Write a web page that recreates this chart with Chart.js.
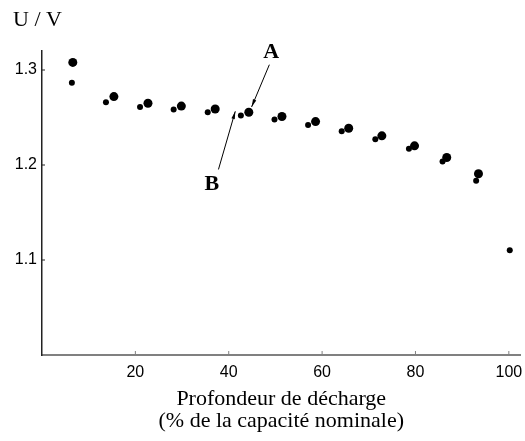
<!DOCTYPE html>
<html>
<head>
<meta charset="utf-8">
<script src="https://cdn.jsdelivr.net/npm/chart.js@4"></script>
<style>
  html, body { margin: 0; padding: 0; background: #fff; }
  #wrap { width: 525px; height: 441px; }
</style>
</head>
<body>
<div id="wrap"><canvas id="decharge"></canvas></div>
<script>
// Données
const grosX = [6.6, 15.4, 22.7, 29.85, 37.1, 44.3, 51.4, 58.6, 65.7, 72.8, 79.8, 86.7, 93.5];
const grosY = [1.308, 1.272, 1.265, 1.262, 1.259, 1.2555, 1.251, 1.2457, 1.2387, 1.2307, 1.2202, 1.2079, 1.1908];
const petitsX = [6.4, 13.7, 21.0, 28.2, 35.5, 42.6, 49.8, 57.0, 64.2, 71.4, 78.6, 85.8, 93.0, 100.2];
const petitsY = [1.2867, 1.266, 1.2611, 1.2583, 1.2555, 1.252, 1.2478, 1.2422, 1.2355, 1.2271, 1.217, 1.2037, 1.1834, 1.1102];
const xTicks = [20, 40, 60, 80, 100];
const yTicks = [1.1, 1.2, 1.3];

// Flèches A et B (en unités des axes)
const labelA = { text: 'A', x: 49.1, y: 1.319, dx: 48.7, dy: 1.3056, fx: 44.9, fy: 1.2611 };
const labelB = { text: 'B', x: 36.4, y: 1.1795, dx: 37.8, dy: 1.1953, fx: 41.4, fy: 1.2565 };

const toPoints = (xs, ys) => xs.map((x, i) => ({ x: x, y: ys[i] }));

const xAxisColor = '#808080';
const yAxisColor = '#222';

// ticks vers l'intérieur + annotations
const extras = {
  id: 'extras',
  afterDraw(chart) {
    const ctx = chart.ctx;
    const xs = chart.scales.x;
    const ys = chart.scales.y;
    const area = chart.chartArea;
    ctx.save();
    ctx.lineWidth = 1;
    ctx.strokeStyle = xAxisColor;
    xTicks.forEach((v) => {
      const px = xs.getPixelForValue(v);
      ctx.beginPath();
      ctx.moveTo(px, area.bottom);
      ctx.lineTo(px, area.bottom - 4);
      ctx.stroke();
    });
    ctx.strokeStyle = yAxisColor;
    yTicks.forEach((v) => {
      const py = ys.getPixelForValue(v);
      ctx.beginPath();
      ctx.moveTo(area.left, py);
      ctx.lineTo(area.left + 3, py);
      ctx.stroke();
    });

    [labelA, labelB].forEach((a) => {
      const x0 = xs.getPixelForValue(a.dx), y0 = ys.getPixelForValue(a.dy);
      const x1 = xs.getPixelForValue(a.fx), y1 = ys.getPixelForValue(a.fy);
      ctx.strokeStyle = '#000';
      ctx.fillStyle = '#000';
      ctx.lineWidth = 1;
      ctx.beginPath();
      ctx.moveTo(x0, y0);
      ctx.lineTo(x1, y1);
      ctx.stroke();
      const ang = Math.atan2(y1 - y0, x1 - x0);
      ctx.beginPath();
      ctx.moveTo(x1, y1);
      ctx.lineTo(x1 - 8 * Math.cos(ang - 0.22), y1 - 8 * Math.sin(ang - 0.22));
      ctx.lineTo(x1 - 8 * Math.cos(ang + 0.22), y1 - 8 * Math.sin(ang + 0.22));
      ctx.closePath();
      ctx.fill();
      ctx.font = 'bold 22px "Liberation Serif"';
      ctx.textAlign = 'center';
      ctx.textBaseline = 'middle';
      ctx.fillText(a.text, xs.getPixelForValue(a.x), ys.getPixelForValue(a.y));
    });
    ctx.restore();
  }
};

const ctx = document.getElementById('decharge').getContext('2d');
const chart = new Chart(ctx, {
  type: 'scatter',
  data: {
    datasets: [
      {
        label: 'gros',
        data: toPoints(grosX, grosY),
        backgroundColor: '#000',
        borderWidth: 0,
        pointRadius: 4.5
      },
      {
        label: 'petits',
        data: toPoints(petitsX, petitsY),
        backgroundColor: '#000',
        borderWidth: 0,
        pointRadius: 3
      }
    ]
  },
  options: {
    responsive: true,
    maintainAspectRatio: false,
    animation: false,
    layout: { padding: { left: 13, right: 1, top: 0, bottom: 0 } },
    plugins: {
      legend: { display: false },
      tooltip: { enabled: false },
      title: {
        display: true,
        text: 'U / V',
        align: 'start',
        color: '#000',
        font: { family: 'Liberation Serif', size: 22, weight: 'normal', lineHeight: '24px' },
        padding: { top: 8, bottom: 19 }
      }
    },
    scales: {
      x: {
        type: 'linear',
        min: 0,
        max: 102.5,
        afterBuildTicks: (s) => { s.ticks = xTicks.map((v) => ({ value: v })); },
        afterFit: (s) => {
          s.height = 86;
          s.paddingLeft = 0;
          s.paddingRight = 0;
        },
        grid: { display: false, drawTicks: false },
        border: { display: true, color: xAxisColor, width: 2 },
        ticks: {
          color: '#000',
          padding: 8,
          maxRotation: 0,
          font: { family: 'Liberation Sans', size: 16 },
          callback: (v) => String(v)
        },
        title: {
          display: true,
          text: ['Profondeur de décharge', '(% de la capacité nominale)'],
          color: '#000',
          font: { family: 'Liberation Serif', size: 22, lineHeight: '22px' },
          padding: { top: 0, bottom: 9 }
        }
      },
      y: {
        type: 'linear',
        min: 1.0,
        max: 1.32,
        afterBuildTicks: (s) => { s.ticks = yTicks.map((v) => ({ value: v })); },
        afterFit: (s) => { s.width = 29; },
        grid: { display: false, drawTicks: false },
        border: { display: true, color: yAxisColor, width: 1.5 },
        ticks: {
          color: '#000',
          padding: 5,
          font: { family: 'Liberation Sans', size: 16 },
          callback: (v) => v.toFixed(1)
        }
      }
    }
  },
  plugins: [extras]
});
</script>
</body>
</html>
